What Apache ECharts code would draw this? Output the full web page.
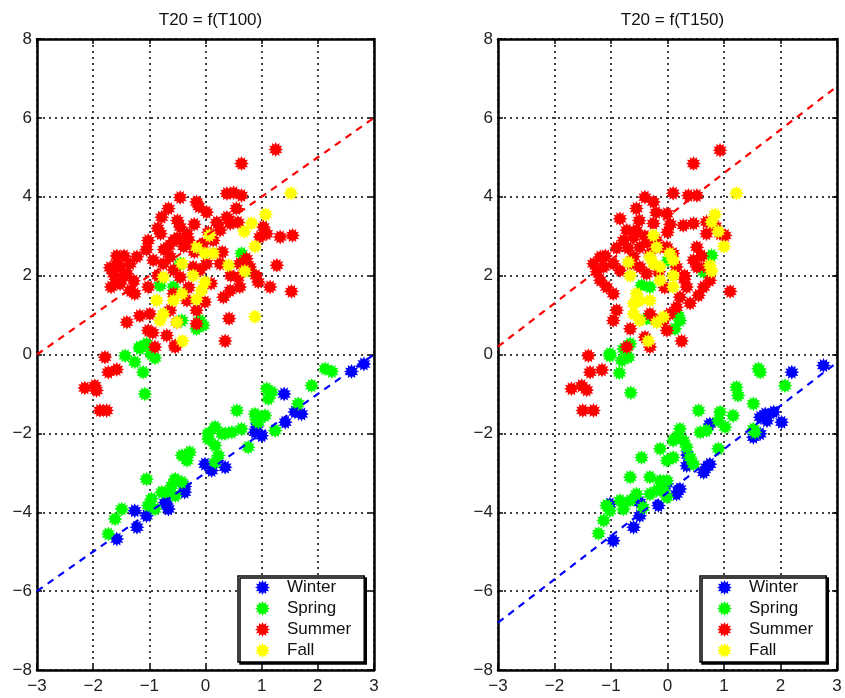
<!DOCTYPE html>
<html>
<head>
<meta charset="utf-8">
<script src="https://cdn.jsdelivr.net/npm/echarts@6.0.0/dist/echarts.min.js"></script>
<style>
html,body{margin:0;padding:0;background:#fff;}
#chart{width:845px;height:698px;}
</style>
</head>
<body>
<div id="chart"></div>
<script>
// ---------- data ----------
var titles = ['T20 = f(T100)', 'T20 = f(T150)'];
var seasons = ['Winter', 'Spring', 'Summer', 'Fall'];
var seasonColors = ['#0000ff', '#00ff00', '#ff0000', '#ffff00'];
var xTicks = [-3, -2, -1, 0, 1, 2, 3];
var yTicks = [-8, -6, -4, -2, 0, 2, 4, 6, 8];

// left panel (T100)
var leftWinter = [[2.82,-0.24],[2.6,-0.43],[1.4,-1.0],[1.59,-1.46],[1.71,-1.51],[1.42,-1.72],[0.91,-1.84],[1.0,-2.06],[0.88,-1.97],
  [-0.01,-2.78],[0.11,-2.94],[0.35,-2.86],[-0.37,-3.49],[-0.37,-3.35],[-0.69,-3.79],[-0.72,-3.75],[-0.66,-3.92],[-1.26,-3.96],
  [-1.05,-4.09],[-1.22,-4.38],[-1.58,-4.68]];
var leftSpring = [[0.64,2.56],[0.79,2.13],[-0.45,2.3],[-0.81,1.75],[-0.57,1.71],[-0.42,0.86],[-0.1,0.86],[-0.04,0.74],[-0.16,0.65],
  [-1.05,0.27],[-1.17,0.19],[-0.97,0.01],[-1.43,-0.03],[-1.26,-0.19],[-1.11,-0.45],[-1.08,-1.0],[-0.9,-0.09],[-1.17,0.15],
  [2.13,-0.36],[2.25,-0.43],[1.89,-0.79],[1.09,-0.87],[1.18,-0.96],[1.12,-1.12],[1.65,-1.25],[0.56,-1.42],[0.88,-1.51],
  [1.06,-1.55],[0.94,-1.72],[1.24,-1.93],[0.76,-2.35],[0.17,-1.84],[0.47,-1.97],[0.64,-1.89],[0.29,-2.01],[0.05,-2.14],
  [0.17,-2.31],[0.23,-2.56],[0.17,-2.73],[-0.42,-2.56],[-0.28,-2.48],[-0.33,-2.69],[-1.05,-3.16],[-0.54,-3.16],[-0.42,-3.24],
  [-0.6,-3.32],[-0.66,-3.49],[-0.78,-3.49],[-0.54,-3.58],[-0.96,-3.66],[-1.02,-3.83],[-0.9,-3.92],[-1.49,-3.92],[-1.61,-4.17],
  [-1.73,-4.55],[0.05,-2.0],[0.35,-2.0],[0.9,-1.65]];
var leftSummer = [[1.25,5.2],[0.64,4.84],[-0.45,3.98],[-0.16,3.87],[0.38,4.08],[0.64,4.03],[0.5,4.1],[-0.66,3.7],[-0.78,3.48],
  [0.02,3.61],[-0.12,3.75],[-0.45,3.23],[-0.33,3.06],[-0.57,2.89],[-0.39,2.74],[-0.74,2.66],[-0.8,3.06],[-1.02,2.89],[-1.05,2.66],
  [0.38,3.48],[0.44,3.32],[0.58,3.35],[0.26,3.15],[0.14,2.89],[1.03,3.23],[1.09,3.06],[0.97,2.98],[1.33,2.98],[1.55,3.02],
  [1.27,2.26],[1.53,1.6],[1.15,1.71],[0.94,1.84],[0.73,2.43],[0.61,2.3],[0.79,2.22],[0.58,1.96],[0.61,1.71],[0.44,1.62],
  [0.32,1.45],[0.42,0.91],[0.35,0.34],[-1.58,2.3],[-1.52,2.22],[-1.64,2.05],[-1.47,1.96],[-1.52,1.79],[-1.34,2.3],[-1.28,1.87],
  [-1.22,2.48],[-1.68,1.71],[-1.34,1.62],[-1.26,1.54],[-1.02,1.71],[-0.93,2.39],[-0.75,2.3],[-0.63,2.48],[-0.57,2.14],
  [-0.45,1.96],[-0.22,2.22],[-0.1,2.14],[0.02,2.3],[0.14,2.56],[0.26,2.3],[-0.01,1.33],[-0.16,1.12],[-0.33,1.37],[-0.57,1.54],
  [-0.63,1.12],[-0.51,0.82],[-0.99,1.03],[-1.17,0.98],[-1.02,0.61],[-0.94,0.55],[-1.4,0.82],[-0.69,0.48],[-0.54,0.23],
  [-0.16,0.78],[-1.79,-0.07],[-1.73,-0.45],[-1.58,-0.38],[-2.15,-0.85],[-1.97,-0.79],[-1.94,-0.91],[-1.88,-1.42],[-1.76,-1.42],
  [-0.9,0.19],[-0.54,0.19],[-0.3,2.9],[-0.5,3.4],[-0.2,3.3],[0.3,2.6],[0.05,3.1],[-1.45,2.5],[-1.6,1.9],[-0.85,2.0],[-0.3,1.7],[0.1,1.8],
  [-1.4,2.05],[-1.58,2.5],[-1.7,2.2],[-0.65,2.75],[-0.5,2.95],[-0.2,2.6],[-0.05,2.8],[0.2,3.35],[0.55,3.7],[-0.85,3.2],[0.9,2.0],[0.45,2.0]];
var leftFall = [[1.52,4.09],[1.07,3.55],[0.82,3.33],[0.69,3.12],[0.88,2.74],[0.07,3.02],[-0.16,2.72],[-0.01,2.56],[0.14,2.56],
  [-0.42,2.3],[-0.22,2.0],[0.41,2.26],[0.7,2.11],[-0.75,1.96],[-0.01,1.84],[-0.07,1.62],[-0.42,1.54],[-0.57,1.37],[-0.87,1.37],
  [-0.16,1.4],[-0.75,1.03],[-0.81,0.86],[-0.51,0.82],[0.88,0.96],[-0.41,0.34]];
var leftFitSummer = [[-3, 0], [3, 6]];
var leftFitWinter = [[-3, -6], [3, 0]];

// right panel (T150)
var rightWinter = [[2.76,-0.28],[2.2,-0.45],[1.73,-1.51],[1.88,-1.46],[1.76,-1.68],[1.64,-1.59],[2.02,-1.72],[1.52,-2.1],[1.64,-2.01],
  [0.75,-1.76],[0.69,-2.86],[0.75,-2.78],[0.64,-2.99],[0.34,-2.82],[0.22,-3.41],[0.16,-3.54],[-0.01,-3.28],[-0.16,-3.83],
  [-0.49,-3.75],[-0.49,-4.09],[-0.6,-4.38],[-0.96,-4.72],[-1.02,-3.79],[0.35,-2.55]];
var rightSpring = [[0.78,2.51],[0.64,2.09],[-0.46,1.75],[-0.31,1.71],[0.01,2.39],[0.22,0.86],[0.13,0.65],[0.19,0.99],[-0.37,0.91],
  [-0.66,0.27],[-0.78,0.14],[-1.02,0.02],[-1.02,-0.03],[-0.81,-0.15],[-0.69,-0.07],[-0.85,-0.47],[-0.65,-0.97],[1.61,-0.36],
  [1.64,-0.45],[2.08,-0.79],[1.22,-0.83],[1.25,-1.04],[1.52,-1.25],[0.55,-1.42],[0.93,-1.46],[0.9,-1.68],[1.16,-1.55],[1.02,-1.84],
  [1.52,-1.89],[1.55,-1.97],[0.22,-1.89],[0.16,-2.1],[0.1,-2.18],[0.28,-2.18],[0.34,-2.35],[0.4,-2.61],[0.46,-2.78],[0.58,-1.97],
  [0.69,-1.93],[-0.13,-2.39],[-0.01,-2.69],[0.1,-2.61],[0.9,-2.39],[-0.46,-2.61],[-0.66,-3.11],[-0.31,-3.11],[-0.13,-3.2],
  [-0.01,-3.2],[-0.07,-3.45],[-0.19,-3.45],[-0.31,-3.54],[-0.55,-3.54],[-0.66,-3.7],[-0.01,-3.62],[-0.84,-3.7],[-0.78,-3.92],
  [-0.43,-3.88],[-1.08,-3.83],[-1.02,-3.96],[-1.13,-4.21],[-1.22,-4.54]];
var rightSummer = [[0.93,5.18],[0.46,4.84],[-0.4,3.99],[-0.25,3.87],[0.1,4.09],[0.37,4.03],[0.52,4.03],[-0.55,3.7],[-0.01,3.57],
  [-0.84,3.44],[0.28,3.27],[0.46,3.32],[0.69,3.36],[0.69,3.06],[0.93,3.06],[1.02,3.02],[0.52,2.72],[-0.72,3.15],[-0.6,2.98],
  [-0.78,2.89],[-0.49,2.72],[-0.25,3.32],[-0.31,2.56],[-0.13,2.72],[-0.6,2.48],[-1.19,2.47],[-1.31,2.3],[-1.13,2.22],[-1.19,1.88],
  [-1.08,1.71],[-0.96,2.3],[-0.84,2.13],[-0.49,2.22],[-0.37,2.05],[-0.01,2.72],[0.1,2.56],[0.16,2.22],[0.46,2.39],[0.52,2.22],
  [0.69,2.22],[0.75,1.88],[0.64,1.71],[1.11,1.6],[-0.96,1.54],[0.34,1.71],[0.22,1.45],[0.16,1.2],[0.04,1.03],[-0.9,1.12],
  [-0.96,0.86],[-0.66,0.65],[-0.31,1.03],[-0.19,0.86],[-0.4,0.44],[-0.31,0.19],[0.25,0.34],[-0.72,0.19],[-1.4,-0.03],[-0.07,0.86],
  [-0.01,0.61],[-1.37,-0.45],[-1.16,-0.39],[-1.7,-0.87],[-1.52,-0.79],[-1.43,-0.9],[-1.5,-1.42],[-1.31,-1.42],[-0.4,3.0],
  [-0.2,2.9],[0.0,3.1],[-0.5,3.4],[-0.7,2.7],[0.3,2.0],[0.55,1.5],[0.4,1.3],[-0.15,2.1],[-0.05,1.7],
  [-1.25,2.1],[-1.1,2.5],[-0.9,2.7],[-0.55,3.15],[-0.35,2.85],[-0.65,2.3],[0.6,2.5],[0.85,3.25],[0.3,1.9],[-0.2,3.6],[0.05,3.3]];
var rightFall = [[1.22,4.09],[0.84,3.55],[0.78,3.36],[0.9,3.12],[1.0,2.74],[-0.25,3.02],[-0.19,2.72],[-0.31,2.47],[-0.25,2.3],
  [0.04,2.56],[0.1,2.39],[-0.69,2.34],[-0.13,2.22],[-0.66,2.0],[0.75,2.26],[0.78,2.11],[0.1,2.0],[-0.13,1.88],[0.1,1.71],
  [-0.55,1.54],[-0.49,1.37],[-0.6,1.29],[-0.31,1.37],[-0.6,1.03],[-0.49,0.86],[-0.19,0.82],[-0.07,0.95],[-0.34,0.34]];
var rightFitSummer = [[-3, 0.2], [3, 6.8]];
var rightFitWinter = [[-3, -6.8], [3, -0.2]];

// ---------- chart ----------
function starPath(n, rIn) {
  var d = '';
  for (var i = 0; i < 2 * n; i++) {
    var r = (i % 2 === 0) ? 10 : 10 * rIn;
    var a = Math.PI * i / n;
    var px = (10 + r * Math.sin(a)).toFixed(2), py = (10 - r * Math.cos(a)).toFixed(2);
    d += (i === 0 ? 'M' : 'L') + px + ' ' + py + ' ';
  }
  return 'path://' + d + 'Z';
}
var STAR = starPath(12, 0.66);
var FONT = 'Liberation Sans, Arial, sans-serif';
var grids = [
  { left: 37, right: 471, top: 39, bottom: 28 },
  { left: 498, right: 8, top: 39, bottom: 28 }
];
function fmt(v) { return String(v).replace('-', '\u2212'); }

var xAxes = [], yAxes = [], series = [], titleArr = [], legends = [];
var panels = [
  { data: [leftWinter, leftSpring, leftSummer, leftFall], fits: [leftFitWinter, leftFitSummer], legendLeft: 238 },
  { data: [rightWinter, rightSpring, rightSummer, rightFall], fits: [rightFitWinter, rightFitSummer], legendLeft: 700 }
];
panels.forEach(function (p, g) {
  var xmin = xTicks[0], xmax = xTicks[xTicks.length - 1], xint = xTicks[1] - xTicks[0];
  var ymin = yTicks[0], ymax = yTicks[yTicks.length - 1], yint = yTicks[1] - yTicks[0];
  var splitLine = { show: true, lineStyle: { color: '#000', width: 1.5, type: [2, 4] } };
  var axLine = { show: true, onZero: false, lineStyle: { color: '#000', width: 2.5 } };
  var tick = { show: true, inside: true, length: 5, lineStyle: { color: '#000', width: 1.5 } };
  xAxes.push({ gridIndex: g, type: 'value', position: 'bottom', min: xmin, max: xmax, interval: xint,
    axisLine: axLine, axisTick: tick,
    axisLabel: { show: true, margin: 8, color: '#222', fontSize: 17, fontFamily: FONT, formatter: fmt },
    splitLine: splitLine });
  xAxes.push({ gridIndex: g, type: 'value', position: 'top', min: xmin, max: xmax, interval: xint,
    axisLine: axLine, axisTick: tick, axisLabel: { show: false }, splitLine: { show: false } });
  yAxes.push({ gridIndex: g, type: 'value', position: 'left', min: ymin, max: ymax, interval: yint,
    axisLine: axLine, axisTick: tick,
    axisLabel: { show: true, margin: 5, color: '#222', fontSize: 17, fontFamily: FONT, formatter: fmt },
    splitLine: splitLine });
  yAxes.push({ gridIndex: g, type: 'value', position: 'right', min: ymin, max: ymax, interval: yint,
    axisLine: axLine, axisTick: tick, axisLabel: { show: false }, splitLine: { show: false } });
  seasons.forEach(function (s, i) {
    series.push({ name: s, type: 'scatter', xAxisIndex: 2 * g, yAxisIndex: 2 * g, data: p.data[i],
      symbol: STAR, symbolSize: 15, itemStyle: { color: seasonColors[i], opacity: 1 }, z: 3 + i });
  });
  [[p.fits[0], '#0000ff'], [p.fits[1], '#ff0000']].forEach(function (f) {
    series.push({ type: 'line', xAxisIndex: 2 * g, yAxisIndex: 2 * g, data: f[0], showSymbol: false, symbol: 'none',
      lineStyle: { color: f[1], width: 2.2, type: [7, 6] }, z: 10, silent: true });
  });
  var gl = grids[g];
  var cx = (gl.left + (845 - gl.right)) / 2;
  titleArr.push({ text: titles[g], left: cx, top: 7, textAlign: 'center',
    textStyle: { fontSize: 17, fontWeight: 'normal', color: '#111', fontFamily: FONT } });
  legends.push({ data: seasons.map(function (s) { return { name: s, icon: STAR }; }),
    orient: 'vertical', left: p.legendLeft, top: 576, itemWidth: 15, itemHeight: 15, itemGap: 4,
    padding: [3, 13, 3, 17], borderColor: '#000', borderWidth: 1.5, backgroundColor: '#fff',
    shadowColor: '#000', shadowOffsetX: 2, shadowOffsetY: 2, shadowBlur: 0,
    selectedMode: false,
    formatter: function (name) { return '{t|' + name + '}'; },
    textStyle: { fontSize: 17, lineHeight: 17, color: '#111', fontFamily: FONT,
      rich: { t: { fontSize: 17, lineHeight: 17, color: '#111', fontFamily: FONT, padding: [0, 0, 0, 12] } } } });
});

var chart = echarts.init(document.getElementById('chart'), null, { renderer: 'canvas' });
chart.setOption({
  animation: false,
  backgroundColor: '#fff',
  title: titleArr,
  legend: legends,
  grid: grids.map(function (g) { return Object.assign({ show: false }, g); }),
  xAxis: xAxes,
  yAxis: yAxes,
  series: series
});
</script>
</body>
</html>
